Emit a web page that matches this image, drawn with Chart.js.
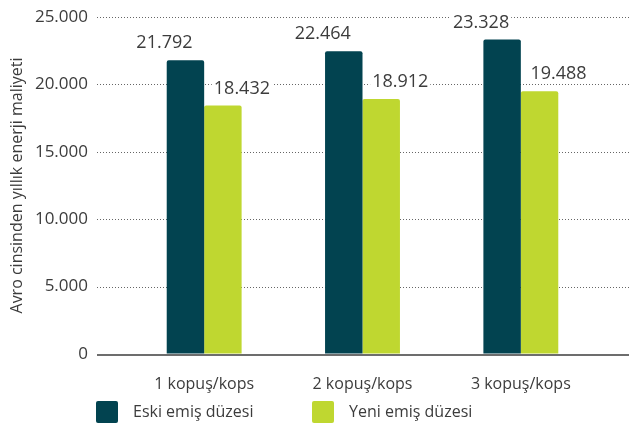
<!DOCTYPE html>
<html>
<head>
<meta charset="utf-8">
<script src="https://cdn.jsdelivr.net/npm/chart.js@4/dist/chart.umd.min.js"></script>
<style>
  html, body { margin: 0; padding: 0; background: #fff; }
  #wrap { width: 629px; height: 430px; }
</style>
</head>
<body>
<div id="wrap"><canvas id="chart" width="629" height="430"></canvas></div>
<script>
const categories = ['1 kopuş/kops', '2 kopuş/kops', '3 kopuş/kops']
const oldNozzle = [21792, 22464, 23328]
const newNozzle = [18432, 18912, 19488]
const seriesNames = ['Eski emiş düzesi', 'Yeni emiş düzesi']
const yTicks = [0, 5000, 10000, 15000, 20000, 25000]

const FONT = "'Open Sans', sans-serif"
const TEXT = '#3c3c3c'
const DARK = '#024350'
const GREEN = '#bfd730'
const GRID_LEFT = 97

const fmt = v => v.toLocaleString('de-DE')

// dotted grid + solid baseline, wider than the bar area
const gridLines = {
  id: 'gridLines',
  beforeDatasetsDraw(chart) {
    const ctx = chart.ctx
    const y = chart.scales.y
    const right = chart.width
    ctx.save()
    y.ticks.forEach(t => {
      const py = Math.round(y.getPixelForValue(t.value)) + 0.5
      if (t.value === 0) return
      ctx.strokeStyle = '#666'
      ctx.lineWidth = 1
      ctx.setLineDash([1, 2])
      ctx.beginPath()
      ctx.moveTo(GRID_LEFT, py)
      ctx.lineTo(right, py)
      ctx.stroke()
    })
    ctx.setLineDash([])
    const base = y.getPixelForValue(0)
    ctx.strokeStyle = '#6d6d6d'
    ctx.lineWidth = 2
    ctx.beginPath()
    ctx.moveTo(GRID_LEFT, base + 1)
    ctx.lineTo(right, base + 1)
    ctx.stroke()
    ctx.restore()
  }
}

// value labels with white background
const valueLabels = {
  id: 'valueLabels',
  afterDatasetsDraw(chart) {
    const ctx = chart.ctx
    const shifts = [-21, 19]
    ctx.save()
    ctx.font = '18px ' + FONT
    ctx.textAlign = 'center'
    ctx.textBaseline = 'middle'
    chart.data.datasets.forEach((ds, i) => {
      chart.getDatasetMeta(i).data.forEach((bar, j) => {
        const text = fmt(ds.data[j])
        const x = bar.x + shifts[i]
        const y = bar.y - 17
        const w = ctx.measureText(text).width
        ctx.fillStyle = '#fff'
        ctx.fillRect(x - w / 2 - 2, y - 9, w + 4, 18)
        ctx.fillStyle = TEXT
        ctx.fillText(text, x, y)
      })
    })
    ctx.restore()
  }
}

// legend under the axis
const legendBoxes = {
  id: 'legendBoxes',
  afterDraw(chart) {
    const ctx = chart.ctx
    const xs = [96, 312]
    const top = 401
    ctx.save()
    ctx.font = '16px ' + FONT
    ctx.textBaseline = 'middle'
    chart.data.datasets.forEach((ds, i) => {
      ctx.fillStyle = ds.backgroundColor
      ctx.beginPath()
      ctx.roundRect(xs[i], top, 22, 22, 2)
      ctx.fill()
      ctx.fillStyle = TEXT
      ctx.fillText(ds.label, xs[i] + 37, top + 11)
    })
    ctx.restore()
  }
}

new Chart(document.getElementById('chart'), {
  type: 'bar',
  data: {
    labels: categories,
    datasets: [
      { label: seriesNames[0], data: oldNozzle, backgroundColor: DARK, borderRadius: { topLeft: 2, topRight: 2 }, borderSkipped: 'bottom' },
      { label: seriesNames[1], data: newNozzle, backgroundColor: GREEN, borderRadius: { topLeft: 2, topRight: 2 }, borderSkipped: 'bottom' }
    ]
  },
  options: {
    responsive: false,
    animation: false,
    layout: { padding: { top: 17, right: 29, left: 0, bottom: 0 } },
    datasets: {
      bar: { categoryPercentage: 0.473, barPercentage: 1 }
    },
    scales: {
      x: {
        grid: { display: false },
        border: { display: false },
        ticks: { color: TEXT, font: { family: FONT, size: 16 }, padding: 13 },
        afterFit(scale) { scale.height = 76 }
      },
      y: {
        min: 0,
        max: 25000,
        afterBuildTicks(scale) { scale.ticks = yTicks.map(v => ({ value: v })) },
        // invisible tick marks push the labels away from the bars
        grid: { display: true, color: 'rgba(0,0,0,0)', drawOnChartArea: false, drawTicks: true, tickLength: 37 },
        border: { display: false },
        ticks: {
          color: TEXT,
          font: { family: FONT, size: 17 },
          padding: 0,
          callback: v => fmt(v)
        },
        title: {
          display: true,
          text: 'Avro cinsinden yıllık enerji maliyeti',
          color: TEXT,
          font: { family: FONT, size: 16 },
          padding: { top: 8, bottom: 0 }
        },
        afterFit(scale) { scale.width = 125 }
      }
    },
    plugins: {
      legend: { display: false },
      tooltip: { enabled: false }
    }
  },
  plugins: [gridLines, valueLabels, legendBoxes]
})
</script>
</body>
</html>
